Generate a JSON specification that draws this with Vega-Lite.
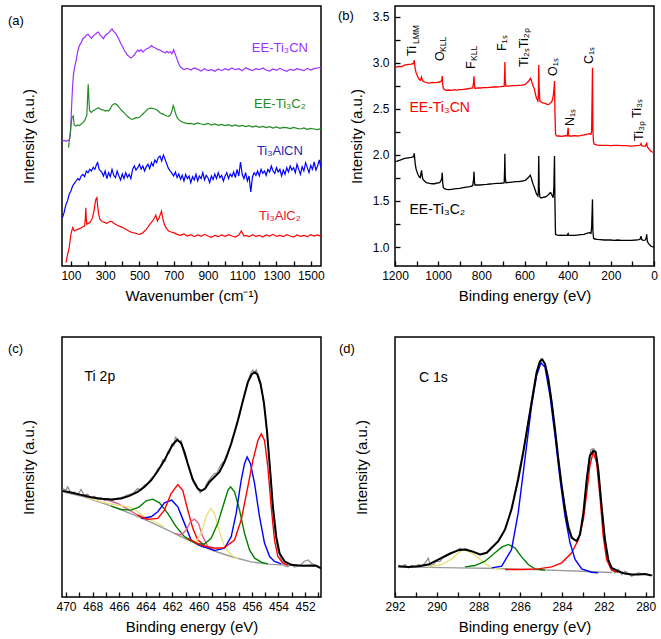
{
"$schema":"https://vega.github.io/schema/vega-lite/v6.json",
"padding":{"left":7,"top":5,"right":8,"bottom":5},
"bounds":"flush",
"columns":2,
"spacing":{"row":71,"column":74},
"resolve":{"scale":{"color":"independent"}},
"config":{
 "font":"Liberation Sans",
 "view":{"stroke":"black","strokeWidth":1.5},
 "axis":{"grid":false,"domain":false,"labelFontSize":12,"labelColor":"black","titleFontSize":15,"titleFontWeight":"normal","titleColor":"black","tickColor":"black","tickSize":-5,"tickWidth":1.3,"labelPadding":11,"titlePadding":4,"labelFlush":false,"labelOverlap":false},
 "title":{"fontSize":13,"fontWeight":"normal","anchor":"start","frame":"group","offset":0,"color":"black"}
},
"datasets":{
"a":[
{"s":"p","w":48,"v":375},{"s":"p","w":60,"v":377},{"s":"p","w":70,"v":374},{"s":"p","w":80,"v":376},{"s":"p","w":90,"v":378},{"s":"p","w":97,"v":392},{"s":"p","w":100,"v":430},{"s":"p","w":105,"v":490},{"s":"p","w":110,"v":540},{"s":"p","w":115,"v":575},{"s":"p","w":120,"v":592},{"s":"p","w":130,"v":615},{"s":"p","w":140,"v":645},{"s":"p","w":150,"v":662},{"s":"p","w":160,"v":670},{"s":"p","w":170,"v":682},{"s":"p","w":180,"v":686},{"s":"p","w":190,"v":692},{"s":"p","w":200,"v":695},{"s":"p","w":210,"v":689},{"s":"p","w":220,"v":683},{"s":"p","w":230,"v":690},{"s":"p","w":240,"v":694},{"s":"p","w":250,"v":699},{"s":"p","w":260,"v":702},{"s":"p","w":270,"v":693},{"s":"p","w":280,"v":688},{"s":"p","w":290,"v":682},{"s":"p","w":300,"v":691},{"s":"p","w":310,"v":696},{"s":"p","w":320,"v":699},{"s":"p","w":330,"v":706},{"s":"p","w":340,"v":711},{"s":"p","w":350,"v":703},{"s":"p","w":360,"v":699},{"s":"p","w":370,"v":690},{"s":"p","w":380,"v":681},{"s":"p","w":390,"v":668},{"s":"p","w":400,"v":660},{"s":"p","w":410,"v":648},{"s":"p","w":420,"v":641},{"s":"p","w":430,"v":633},{"s":"p","w":440,"v":628},{"s":"p","w":450,"v":624},{"s":"p","w":460,"v":628},{"s":"p","w":470,"v":633},{"s":"p","w":480,"v":641},{"s":"p","w":490,"v":648},{"s":"p","w":500,"v":644},{"s":"p","w":510,"v":649},{"s":"p","w":520,"v":642},{"s":"p","w":530,"v":647},{"s":"p","w":540,"v":651},{"s":"p","w":550,"v":653},{"s":"p","w":560,"v":656},{"s":"p","w":570,"v":661},{"s":"p","w":580,"v":657},{"s":"p","w":590,"v":655},{"s":"p","w":600,"v":652},{"s":"p","w":610,"v":649},{"s":"p","w":620,"v":648},{"s":"p","w":630,"v":644},{"s":"p","w":640,"v":642},{"s":"p","w":650,"v":639},{"s":"p","w":660,"v":644},{"s":"p","w":670,"v":640},{"s":"p","w":680,"v":643},{"s":"p","w":690,"v":637},{"s":"p","w":700,"v":649},{"s":"p","w":710,"v":634},{"s":"p","w":720,"v":620},{"s":"p","w":730,"v":606},{"s":"p","w":740,"v":597},{"s":"p","w":750,"v":593},{"s":"p","w":760,"v":589},{"s":"p","w":780,"v":593},{"s":"p","w":800,"v":588},{"s":"p","w":820,"v":594},{"s":"p","w":840,"v":590},{"s":"p","w":860,"v":585},{"s":"p","w":880,"v":592},{"s":"p","w":900,"v":586},{"s":"p","w":920,"v":589},{"s":"p","w":940,"v":584},{"s":"p","w":960,"v":591},{"s":"p","w":980,"v":586},{"s":"p","w":1000,"v":592},{"s":"p","w":1020,"v":588},{"s":"p","w":1040,"v":594},{"s":"p","w":1060,"v":589},{"s":"p","w":1080,"v":592},{"s":"p","w":1100,"v":586},{"s":"p","w":1120,"v":595},{"s":"p","w":1140,"v":590},{"s":"p","w":1160,"v":586},{"s":"p","w":1180,"v":592},{"s":"p","w":1200,"v":589},{"s":"p","w":1220,"v":594},{"s":"p","w":1240,"v":588},{"s":"p","w":1260,"v":585},{"s":"p","w":1280,"v":591},{"s":"p","w":1300,"v":587},{"s":"p","w":1320,"v":593},{"s":"p","w":1340,"v":588},{"s":"p","w":1360,"v":584},{"s":"p","w":1380,"v":590},{"s":"p","w":1400,"v":587},{"s":"p","w":1420,"v":592},{"s":"p","w":1440,"v":589},{"s":"p","w":1460,"v":586},{"s":"p","w":1480,"v":593},{"s":"p","w":1500,"v":588},{"s":"p","w":1520,"v":592},{"s":"p","w":1540,"v":594},{"s":"p","w":1560,"v":596},
{"s":"g","w":86,"v":355},{"s":"g","w":95,"v":395},{"s":"g","w":100,"v":420},{"s":"g","w":106,"v":445},{"s":"g","w":114,"v":450},{"s":"g","w":119,"v":423},{"s":"g","w":129,"v":420},{"s":"g","w":140,"v":423},{"s":"g","w":150,"v":421},{"s":"g","w":160,"v":426},{"s":"g","w":170,"v":430},{"s":"g","w":180,"v":436},{"s":"g","w":187,"v":445},{"s":"g","w":193,"v":452},{"s":"g","w":197,"v":500},{"s":"g","w":201,"v":545},{"s":"g","w":205,"v":500},{"s":"g","w":209,"v":466},{"s":"g","w":220,"v":461},{"s":"g","w":230,"v":466},{"s":"g","w":240,"v":469},{"s":"g","w":250,"v":472},{"s":"g","w":260,"v":475},{"s":"g","w":270,"v":471},{"s":"g","w":280,"v":469},{"s":"g","w":290,"v":468},{"s":"g","w":300,"v":465},{"s":"g","w":310,"v":467},{"s":"g","w":320,"v":465},{"s":"g","w":330,"v":472},{"s":"g","w":340,"v":482},{"s":"g","w":350,"v":486},{"s":"g","w":360,"v":487},{"s":"g","w":370,"v":483},{"s":"g","w":380,"v":477},{"s":"g","w":390,"v":470},{"s":"g","w":400,"v":465},{"s":"g","w":410,"v":460},{"s":"g","w":420,"v":455},{"s":"g","w":430,"v":449},{"s":"g","w":440,"v":445},{"s":"g","w":450,"v":441},{"s":"g","w":460,"v":440},{"s":"g","w":470,"v":443},{"s":"g","w":480,"v":445},{"s":"g","w":490,"v":444},{"s":"g","w":500,"v":446},{"s":"g","w":510,"v":451},{"s":"g","w":520,"v":456},{"s":"g","w":530,"v":461},{"s":"g","w":540,"v":466},{"s":"g","w":550,"v":471},{"s":"g","w":560,"v":473},{"s":"g","w":570,"v":474},{"s":"g","w":580,"v":472},{"s":"g","w":590,"v":471},{"s":"g","w":600,"v":469},{"s":"g","w":610,"v":465},{"s":"g","w":620,"v":460},{"s":"g","w":630,"v":457},{"s":"g","w":640,"v":455},{"s":"g","w":650,"v":452},{"s":"g","w":660,"v":450},{"s":"g","w":670,"v":449},{"s":"g","w":680,"v":452},{"s":"g","w":690,"v":465},{"s":"g","w":697,"v":482},{"s":"g","w":702,"v":475},{"s":"g","w":707,"v":465},{"s":"g","w":715,"v":452},{"s":"g","w":720,"v":445},{"s":"g","w":730,"v":439},{"s":"g","w":740,"v":435},{"s":"g","w":750,"v":432},{"s":"g","w":760,"v":430},{"s":"g","w":780,"v":427},{"s":"g","w":800,"v":428},{"s":"g","w":820,"v":425},{"s":"g","w":840,"v":429},{"s":"g","w":860,"v":426},{"s":"g","w":880,"v":424},{"s":"g","w":900,"v":428},{"s":"g","w":920,"v":423},{"s":"g","w":940,"v":426},{"s":"g","w":960,"v":422},{"s":"g","w":980,"v":425},{"s":"g","w":1000,"v":421},{"s":"g","w":1020,"v":424},{"s":"g","w":1040,"v":420},{"s":"g","w":1060,"v":423},{"s":"g","w":1080,"v":419},{"s":"g","w":1100,"v":422},{"s":"g","w":1120,"v":418},{"s":"g","w":1140,"v":421},{"s":"g","w":1160,"v":417},{"s":"g","w":1180,"v":420},{"s":"g","w":1200,"v":416},{"s":"g","w":1220,"v":419},{"s":"g","w":1240,"v":415},{"s":"g","w":1260,"v":418},{"s":"g","w":1280,"v":414},{"s":"g","w":1300,"v":417},{"s":"g","w":1320,"v":413},{"s":"g","w":1340,"v":416},{"s":"g","w":1360,"v":415},{"s":"g","w":1380,"v":412},{"s":"g","w":1400,"v":416},{"s":"g","w":1420,"v":413},{"s":"g","w":1440,"v":411},{"s":"g","w":1460,"v":414},{"s":"g","w":1480,"v":410},{"s":"g","w":1500,"v":413},{"s":"g","w":1520,"v":411},{"s":"g","w":1540,"v":409},{"s":"g","w":1560,"v":412},
{"s":"b","w":51,"v":145},{"s":"b","w":60,"v":160},{"s":"b","w":71,"v":185},{"s":"b","w":80,"v":195},{"s":"b","w":90,"v":215},{"s":"b","w":100,"v":225},{"s":"b","w":110,"v":240},{"s":"b","w":120,"v":248},{"s":"b","w":130,"v":255},{"s":"b","w":140,"v":262},{"s":"b","w":150,"v":258},{"s":"b","w":160,"v":270},{"s":"b","w":170,"v":275},{"s":"b","w":180,"v":268},{"s":"b","w":190,"v":285},{"s":"b","w":200,"v":280},{"s":"b","w":210,"v":290},{"s":"b","w":220,"v":285},{"s":"b","w":230,"v":296},{"s":"b","w":240,"v":290},{"s":"b","w":250,"v":305},{"s":"b","w":256,"v":310},{"s":"b","w":265,"v":290},{"s":"b","w":280,"v":282},{"s":"b","w":290,"v":270},{"s":"b","w":300,"v":285},{"s":"b","w":310,"v":262},{"s":"b","w":320,"v":280},{"s":"b","w":330,"v":268},{"s":"b","w":340,"v":290},{"s":"b","w":350,"v":272},{"s":"b","w":360,"v":265},{"s":"b","w":370,"v":285},{"s":"b","w":380,"v":270},{"s":"b","w":390,"v":258},{"s":"b","w":400,"v":276},{"s":"b","w":410,"v":262},{"s":"b","w":420,"v":280},{"s":"b","w":430,"v":266},{"s":"b","w":440,"v":275},{"s":"b","w":450,"v":262},{"s":"b","w":460,"v":290},{"s":"b","w":470,"v":300},{"s":"b","w":480,"v":288},{"s":"b","w":490,"v":295},{"s":"b","w":500,"v":305},{"s":"b","w":510,"v":290},{"s":"b","w":520,"v":300},{"s":"b","w":530,"v":285},{"s":"b","w":540,"v":298},{"s":"b","w":550,"v":305},{"s":"b","w":560,"v":292},{"s":"b","w":570,"v":310},{"s":"b","w":580,"v":300},{"s":"b","w":590,"v":318},{"s":"b","w":600,"v":310},{"s":"b","w":610,"v":325},{"s":"b","w":620,"v":330},{"s":"b","w":630,"v":315},{"s":"b","w":640,"v":333},{"s":"b","w":650,"v":320},{"s":"b","w":660,"v":305},{"s":"b","w":670,"v":292},{"s":"b","w":680,"v":285},{"s":"b","w":690,"v":278},{"s":"b","w":700,"v":270},{"s":"b","w":710,"v":282},{"s":"b","w":720,"v":265},{"s":"b","w":730,"v":276},{"s":"b","w":740,"v":260},{"s":"b","w":750,"v":272},{"s":"b","w":760,"v":255},{"s":"b","w":770,"v":275},{"s":"b","w":780,"v":262},{"s":"b","w":790,"v":270},{"s":"b","w":800,"v":250},{"s":"b","w":810,"v":268},{"s":"b","w":820,"v":258},{"s":"b","w":830,"v":275},{"s":"b","w":840,"v":255},{"s":"b","w":850,"v":270},{"s":"b","w":860,"v":262},{"s":"b","w":870,"v":280},{"s":"b","w":880,"v":258},{"s":"b","w":890,"v":272},{"s":"b","w":900,"v":265},{"s":"b","w":910,"v":250},{"s":"b","w":920,"v":270},{"s":"b","w":930,"v":260},{"s":"b","w":940,"v":276},{"s":"b","w":950,"v":262},{"s":"b","w":960,"v":280},{"s":"b","w":970,"v":265},{"s":"b","w":980,"v":272},{"s":"b","w":990,"v":255},{"s":"b","w":1000,"v":270},{"s":"b","w":1010,"v":280},{"s":"b","w":1020,"v":262},{"s":"b","w":1030,"v":276},{"s":"b","w":1040,"v":268},{"s":"b","w":1050,"v":282},{"s":"b","w":1060,"v":265},{"s":"b","w":1070,"v":290},{"s":"b","w":1080,"v":270},{"s":"b","w":1090,"v":312},{"s":"b","w":1100,"v":275},{"s":"b","w":1110,"v":262},{"s":"b","w":1120,"v":280},{"s":"b","w":1130,"v":255},{"s":"b","w":1140,"v":270},{"s":"b","w":1150,"v":222},{"s":"b","w":1160,"v":268},{"s":"b","w":1170,"v":280},{"s":"b","w":1180,"v":272},{"s":"b","w":1190,"v":285},{"s":"b","w":1200,"v":270},{"s":"b","w":1210,"v":290},{"s":"b","w":1220,"v":278},{"s":"b","w":1230,"v":285},{"s":"b","w":1240,"v":272},{"s":"b","w":1250,"v":290},{"s":"b","w":1260,"v":282},{"s":"b","w":1270,"v":300},{"s":"b","w":1280,"v":285},{"s":"b","w":1290,"v":278},{"s":"b","w":1300,"v":295},{"s":"b","w":1310,"v":282},{"s":"b","w":1320,"v":290},{"s":"b","w":1330,"v":270},{"s":"b","w":1340,"v":288},{"s":"b","w":1350,"v":275},{"s":"b","w":1360,"v":295},{"s":"b","w":1370,"v":282},{"s":"b","w":1380,"v":300},{"s":"b","w":1390,"v":288},{"s":"b","w":1400,"v":295},{"s":"b","w":1410,"v":280},{"s":"b","w":1420,"v":305},{"s":"b","w":1430,"v":290},{"s":"b","w":1440,"v":275},{"s":"b","w":1450,"v":298},{"s":"b","w":1460,"v":285},{"s":"b","w":1470,"v":310},{"s":"b","w":1480,"v":295},{"s":"b","w":1490,"v":280},{"s":"b","w":1500,"v":302},{"s":"b","w":1510,"v":290},{"s":"b","w":1520,"v":312},{"s":"b","w":1530,"v":288},{"s":"b","w":1540,"v":300},{"s":"b","w":1550,"v":318},{"s":"b","w":1560,"v":295},
{"s":"r","w":71,"v":10},{"s":"r","w":81,"v":35},{"s":"r","w":90,"v":55},{"s":"r","w":100,"v":95},{"s":"r","w":110,"v":115},{"s":"r","w":120,"v":105},{"s":"r","w":130,"v":108},{"s":"r","w":140,"v":110},{"s":"r","w":150,"v":112},{"s":"r","w":160,"v":115},{"s":"r","w":170,"v":118},{"s":"r","w":180,"v":120},{"s":"r","w":184,"v":140},{"s":"r","w":187,"v":175},{"s":"r","w":190,"v":140},{"s":"r","w":193,"v":125},{"s":"r","w":200,"v":128},{"s":"r","w":210,"v":130},{"s":"r","w":220,"v":138},{"s":"r","w":226,"v":145},{"s":"r","w":235,"v":165},{"s":"r","w":240,"v":185},{"s":"r","w":246,"v":200},{"s":"r","w":252,"v":205},{"s":"r","w":256,"v":180},{"s":"r","w":262,"v":155},{"s":"r","w":270,"v":140},{"s":"r","w":280,"v":135},{"s":"r","w":290,"v":132},{"s":"r","w":300,"v":130},{"s":"r","w":310,"v":128},{"s":"r","w":320,"v":131},{"s":"r","w":330,"v":134},{"s":"r","w":340,"v":133},{"s":"r","w":350,"v":128},{"s":"r","w":360,"v":125},{"s":"r","w":370,"v":122},{"s":"r","w":380,"v":120},{"s":"r","w":390,"v":118},{"s":"r","w":400,"v":116},{"s":"r","w":410,"v":113},{"s":"r","w":420,"v":110},{"s":"r","w":430,"v":107},{"s":"r","w":440,"v":104},{"s":"r","w":450,"v":102},{"s":"r","w":460,"v":100},{"s":"r","w":470,"v":99},{"s":"r","w":480,"v":98},{"s":"r","w":490,"v":96},{"s":"r","w":500,"v":95},{"s":"r","w":510,"v":97},{"s":"r","w":520,"v":100},{"s":"r","w":530,"v":105},{"s":"r","w":540,"v":110},{"s":"r","w":550,"v":117},{"s":"r","w":560,"v":125},{"s":"r","w":570,"v":131},{"s":"r","w":580,"v":138},{"s":"r","w":590,"v":146},{"s":"r","w":596,"v":153},{"s":"r","w":600,"v":145},{"s":"r","w":605,"v":135},{"s":"r","w":610,"v":140},{"s":"r","w":615,"v":145},{"s":"r","w":622,"v":155},{"s":"r","w":629,"v":165},{"s":"r","w":634,"v":150},{"s":"r","w":640,"v":135},{"s":"r","w":648,"v":122},{"s":"r","w":655,"v":115},{"s":"r","w":662,"v":110},{"s":"r","w":670,"v":105},{"s":"r","w":685,"v":102},{"s":"r","w":700,"v":100},{"s":"r","w":720,"v":95},{"s":"r","w":740,"v":92},{"s":"r","w":760,"v":96},{"s":"r","w":780,"v":90},{"s":"r","w":800,"v":94},{"s":"r","w":820,"v":88},{"s":"r","w":840,"v":93},{"s":"r","w":860,"v":89},{"s":"r","w":880,"v":95},{"s":"r","w":900,"v":90},{"s":"r","w":920,"v":86},{"s":"r","w":940,"v":92},{"s":"r","w":960,"v":88},{"s":"r","w":980,"v":93},{"s":"r","w":1000,"v":89},{"s":"r","w":1020,"v":94},{"s":"r","w":1040,"v":90},{"s":"r","w":1060,"v":87},{"s":"r","w":1080,"v":93},{"s":"r","w":1095,"v":105},{"s":"r","w":1110,"v":90},{"s":"r","w":1120,"v":92},{"s":"r","w":1140,"v":88},{"s":"r","w":1160,"v":94},{"s":"r","w":1180,"v":89},{"s":"r","w":1200,"v":92},{"s":"r","w":1220,"v":87},{"s":"r","w":1240,"v":93},{"s":"r","w":1260,"v":90},{"s":"r","w":1280,"v":95},{"s":"r","w":1300,"v":89},{"s":"r","w":1320,"v":92},{"s":"r","w":1340,"v":88},{"s":"r","w":1360,"v":94},{"s":"r","w":1380,"v":90},{"s":"r","w":1400,"v":87},{"s":"r","w":1420,"v":93},{"s":"r","w":1440,"v":89},{"s":"r","w":1460,"v":92},{"s":"r","w":1480,"v":88},{"s":"r","w":1500,"v":94},{"s":"r","w":1520,"v":90},{"s":"r","w":1540,"v":93},{"s":"r","w":1560,"v":89}
],
"b":[
{"e":1200,"r":2.946,"k":1.926},{"e":1190,"r":2.954,"k":1.933},{"e":1180,"r":2.961,"k":1.941},{"e":1170,"r":2.957,"k":1.948},{"e":1156,"r":2.975,"k":1.962},{"e":1145,"r":2.979,"k":1.966},{"e":1133,"r":2.983,"k":1.970},{"e":1125,"r":2.986,"k":1.973},{"e":1117,"r":2.990,"k":1.977},{"e":1113,"r":2.997,"k":1.984},{"e":1111,"r":3.030,"k":2.017},{"e":1109,"r":2.983,"k":1.970},{"e":1106,"r":2.928,"k":1.897},{"e":1102,"r":2.892,"k":1.843},{"e":1094,"r":2.845,"k":1.789},{"e":1087,"r":2.816,"k":1.760},{"e":1083,"r":2.809,"k":1.753},{"e":1079,"r":2.831,"k":1.807},{"e":1077,"r":2.845,"k":1.832},{"e":1074,"r":2.816,"k":1.771},{"e":1071,"r":2.802,"k":1.734},{"e":1063,"r":2.791,"k":1.716},{"e":1055,"r":2.784,"k":1.698},{"e":1040,"r":2.780,"k":1.691},{"e":1028,"r":2.787,"k":1.687},{"e":1016,"r":2.784,"k":1.687},{"e":1005,"r":2.787,"k":1.695},{"e":993,"r":2.791,"k":1.698},{"e":986,"r":2.802,"k":1.724},{"e":983,"r":2.816,"k":1.753},{"e":981,"r":2.856,"k":1.807},{"e":979,"r":2.766,"k":1.698},{"e":976,"r":2.722,"k":1.644},{"e":970,"r":2.708,"k":1.633},{"e":962,"r":2.700,"k":1.626},{"e":950,"r":2.704,"k":1.622},{"e":938,"r":2.700,"k":1.626},{"e":925,"r":2.708,"k":1.630},{"e":915,"r":2.704,"k":1.633},{"e":900,"r":2.708,"k":1.637},{"e":884,"r":2.711,"k":1.644},{"e":868,"r":2.715,"k":1.651},{"e":853,"r":2.722,"k":1.655},{"e":840,"r":2.726,"k":1.666},{"e":836,"r":2.784,"k":1.734},{"e":834,"r":2.852,"k":1.818},{"e":832,"r":2.766,"k":1.716},{"e":830,"r":2.722,"k":1.673},{"e":815,"r":2.726,"k":1.673},{"e":806,"r":2.726,"k":1.673},{"e":790,"r":2.729,"k":1.677},{"e":775,"r":2.729,"k":1.680},{"e":760,"r":2.733,"k":1.684},{"e":744,"r":2.737,"k":1.687},{"e":728,"r":2.737,"k":1.691},{"e":713,"r":2.740,"k":1.691},{"e":700,"r":2.744,"k":1.695},{"e":694,"r":2.744,"k":1.698},{"e":692,"r":2.874,"k":1.861},{"e":691,"r":3.008,"k":2.013},{"e":689,"r":2.802,"k":1.753},{"e":686,"r":2.747,"k":1.698},{"e":670,"r":2.747,"k":1.702},{"e":658,"r":2.751,"k":1.705},{"e":642,"r":2.751,"k":1.709},{"e":627,"r":2.755,"k":1.709},{"e":612,"r":2.758,"k":1.716},{"e":596,"r":2.766,"k":1.724},{"e":588,"r":2.784,"k":1.742},{"e":580,"r":2.802,"k":1.760},{"e":573,"r":2.831,"k":1.778},{"e":568,"r":2.809,"k":1.745},{"e":565,"r":2.784,"k":1.716},{"e":560,"r":2.747,"k":1.680},{"e":554,"r":2.711,"k":1.644},{"e":549,"r":2.657,"k":1.608},{"e":545,"r":2.621,"k":1.579},{"e":538,"r":2.585,"k":1.554},{"e":536,"r":2.621,"k":1.590},{"e":534,"r":2.975,"k":1.988},{"e":532,"r":2.729,"k":1.644},{"e":529,"r":2.585,"k":1.543},{"e":524,"r":2.577,"k":1.535},{"e":518,"r":2.567,"k":1.535},{"e":510,"r":2.563,"k":1.543},{"e":503,"r":2.556,"k":1.543},{"e":495,"r":2.548,"k":1.557},{"e":487,"r":2.548,"k":1.572},{"e":483,"r":2.556,"k":1.586},{"e":479,"r":2.567,"k":1.590},{"e":475,"r":2.577,"k":1.572},{"e":472,"r":2.585,"k":1.561},{"e":467,"r":2.639,"k":1.535},{"e":464,"r":2.693,"k":1.644},{"e":461,"r":2.802,"k":1.988},{"e":459,"r":2.476,"k":1.499},{"e":457,"r":2.295,"k":1.210},{"e":456,"r":2.223,"k":1.137},{"e":452,"r":2.208,"k":1.134},{"e":448,"r":2.205,"k":1.130},{"e":440,"r":2.205,"k":1.127},{"e":430,"r":2.201,"k":1.130},{"e":417,"r":2.205,"k":1.127},{"e":408,"r":2.208,"k":1.127},{"e":402,"r":2.205,"k":1.127},{"e":400,"r":2.241,"k":1.137},{"e":398,"r":2.295,"k":1.145},{"e":396,"r":2.223,"k":1.130},{"e":394,"r":2.205,"k":1.127},{"e":380,"r":2.205,"k":1.127},{"e":368,"r":2.208,"k":1.127},{"e":355,"r":2.205,"k":1.130},{"e":340,"r":2.208,"k":1.134},{"e":324,"r":2.216,"k":1.137},{"e":312,"r":2.223,"k":1.148},{"e":300,"r":2.230,"k":1.156},{"e":292,"r":2.223,"k":1.148},{"e":289,"r":2.259,"k":1.210},{"e":287,"r":2.585,"k":1.355},{"e":285,"r":2.946,"k":1.517},{"e":283,"r":2.259,"k":1.174},{"e":280,"r":2.132,"k":1.094},{"e":275,"r":2.114,"k":1.087},{"e":262,"r":2.107,"k":1.083},{"e":250,"r":2.104,"k":1.080},{"e":230,"r":2.104,"k":1.076},{"e":215,"r":2.104,"k":1.076},{"e":200,"r":2.100,"k":1.076},{"e":185,"r":2.104,"k":1.072},{"e":168,"r":2.104,"k":1.076},{"e":150,"r":2.100,"k":1.072},{"e":130,"r":2.100,"k":1.072},{"e":106,"r":2.096,"k":1.072},{"e":85,"r":2.100,"k":1.076},{"e":70,"r":2.104,"k":1.080},{"e":63,"r":2.107,"k":1.090},{"e":60,"r":2.122,"k":1.119},{"e":57,"r":2.100,"k":1.080},{"e":50,"r":2.096,"k":1.072},{"e":40,"r":2.096,"k":1.076},{"e":36,"r":2.114,"k":1.101},{"e":34,"r":2.132,"k":1.137},{"e":31,"r":2.089,"k":1.065},{"e":28,"r":2.078,"k":1.047},{"e":22,"r":2.060,"k":1.029},{"e":15,"r":2.042,"k":1.011},{"e":8,"r":2.031,"k":1.004},{"e":0,"r":2.024,"k":1.000}
],
"cr":[
{"x":470.25,"y":327},{"x":470.0,"y":322},{"x":469.87,"y":332},{"x":469.62,"y":312},{"x":469.37,"y":317},{"x":469.12,"y":307},{"x":468.87,"y":324},{"x":468.62,"y":307},{"x":468.37,"y":310},{"x":468.12,"y":297},{"x":467.86,"y":304},{"x":467.61,"y":294},{"x":467.36,"y":300},{"x":467.11,"y":291},{"x":466.86,"y":297},{"x":466.48,"y":291},{"x":466.11,"y":298},{"x":465.73,"y":301},{"x":465.35,"y":308},{"x":464.97,"y":312},{"x":464.6,"y":327},{"x":464.35,"y":322},{"x":464.1,"y":337},{"x":463.84,"y":342},{"x":463.59,"y":357},{"x":463.34,"y":366},{"x":463.09,"y":386},{"x":462.89,"y":392},{"x":462.71,"y":414},{"x":462.54,"y":410},{"x":462.34,"y":437},{"x":462.21,"y":434},{"x":462.04,"y":460},{"x":461.88,"y":456},{"x":461.76,"y":482},{"x":461.58,"y":476},{"x":461.46,"y":467},{"x":461.33,"y":472},{"x":461.13,"y":434},{"x":460.95,"y":414},{"x":460.83,"y":400},{"x":460.63,"y":372},{"x":460.45,"y":350},{"x":460.28,"y":337},{"x":460.08,"y":327},{"x":459.9,"y":314},{"x":459.75,"y":322},{"x":459.57,"y":324},{"x":459.4,"y":342},{"x":459.2,"y":354},{"x":459.02,"y":364},{"x":458.82,"y":372},{"x":458.62,"y":374},{"x":458.44,"y":392},{"x":458.27,"y":402},{"x":458.07,"y":410},{"x":457.89,"y":420},{"x":457.69,"y":447},{"x":457.49,"y":477},{"x":457.31,"y":494},{"x":457.11,"y":522},{"x":456.93,"y":548},{"x":456.73,"y":582},{"x":456.56,"y":612},{"x":456.36,"y":642},{"x":456.18,"y":666},{"x":456.06,"y":677},{"x":455.93,"y":684},{"x":455.8,"y":676},{"x":455.68,"y":685},{"x":455.5,"y":667},{"x":455.35,"y":647},{"x":455.18,"y":604},{"x":455.0,"y":552},{"x":454.8,"y":462},{"x":454.6,"y":372},{"x":454.42,"y":272},{"x":454.25,"y":192},{"x":454.05,"y":142},{"x":453.79,"y":112},{"x":453.54,"y":94},{"x":453.29,"y":92},{"x":453.04,"y":99},{"x":452.79,"y":90},{"x":452.54,"y":94},{"x":452.29,"y":98},{"x":452.04,"y":108},{"x":451.78,"y":112},{"x":451.53,"y":102},{"x":451.28,"y":97},{"x":451.03,"y":92},{"x":450.78,"y":86}
],
"cf":[
{"x":470.25,"y":320},{"x":469.62,"y":315},{"x":468.87,"y":308},{"x":468.12,"y":301},{"x":467.36,"y":296},{"x":466.61,"y":294},{"x":465.85,"y":297},{"x":465.23,"y":305},{"x":464.6,"y":317},{"x":464.1,"y":332},{"x":463.59,"y":352},{"x":463.09,"y":380},{"x":462.59,"y":412},{"x":462.21,"y":442},{"x":461.96,"y":460},{"x":461.63,"y":474},{"x":461.33,"y":464},{"x":461.08,"y":437},{"x":460.83,"y":402},{"x":460.45,"y":354},{"x":460.08,"y":327},{"x":459.82,"y":320},{"x":459.52,"y":327},{"x":459.2,"y":347},{"x":458.82,"y":362},{"x":458.44,"y":377},{"x":458.07,"y":407},{"x":457.56,"y":462},{"x":457.06,"y":532},{"x":456.68,"y":592},{"x":456.31,"y":647},{"x":456.01,"y":672},{"x":455.8,"y":677},{"x":455.6,"y":672},{"x":455.35,"y":642},{"x":455.1,"y":587},{"x":454.87,"y":502},{"x":454.65,"y":392},{"x":454.42,"y":272},{"x":454.17,"y":182},{"x":453.92,"y":132},{"x":453.54,"y":107},{"x":453.04,"y":97},{"x":452.29,"y":94},{"x":451.53,"y":95},{"x":451.16,"y":94},{"x":450.78,"y":86}
],
"cc":[
{"s":"bg","x":470.25,"y":317},{"s":"bg","x":468.62,"y":302},{"s":"bg","x":467.36,"y":285},{"s":"bg","x":466.11,"y":267},{"s":"bg","x":464.85,"y":247},{"s":"bg","x":463.59,"y":225},{"s":"bg","x":462.34,"y":202},{"s":"bg","x":461.08,"y":177},{"s":"bg","x":459.82,"y":154},{"s":"bg","x":458.57,"y":135},{"s":"bg","x":457.31,"y":119},{"s":"bg","x":456.06,"y":106},{"s":"bg","x":454.8,"y":99},{"s":"bg","x":453.54,"y":96},{"s":"bg","x":452.79,"y":95},
{"s":"p2","x":469.12,"y":310},{"s":"p2","x":468.37,"y":304},{"s":"p2","x":467.61,"y":297},{"s":"p2","x":466.86,"y":292},{"s":"p2","x":466.11,"y":282},{"s":"p2","x":465.35,"y":265},{"s":"p2","x":464.6,"y":247},{"s":"p2","x":463.84,"y":232},
{"s":"y2","x":468.37,"y":300},{"s":"y2","x":467.36,"y":287},{"s":"y2","x":466.36,"y":278},{"s":"y2","x":465.6,"y":274},{"s":"y2","x":465.1,"y":270},{"s":"y2","x":464.6,"y":257},{"s":"y2","x":464.1,"y":242},{"s":"y2","x":463.34,"y":227},{"s":"y2","x":462.59,"y":212},
{"s":"g2","x":466.61,"y":274},{"s":"g2","x":465.85,"y":264},{"s":"g2","x":465.1,"y":262},{"s":"g2","x":464.47,"y":272},{"s":"g2","x":463.97,"y":290},{"s":"g2","x":463.47,"y":295},{"s":"g2","x":462.96,"y":284},{"s":"g2","x":462.34,"y":252},{"s":"g2","x":461.71,"y":212},{"s":"g2","x":461.08,"y":182},{"s":"g2","x":460.45,"y":167},
{"s":"b2","x":464.35,"y":237},{"s":"b2","x":463.59,"y":242},{"s":"b2","x":463.09,"y":257},{"s":"b2","x":462.59,"y":284},{"s":"b2","x":462.04,"y":292},{"s":"b2","x":461.58,"y":272},{"s":"b2","x":461.08,"y":222},{"s":"b2","x":460.58,"y":172},{"s":"b2","x":460.08,"y":158},{"s":"b2","x":459.57,"y":150},
{"s":"r2","x":464.6,"y":247},{"s":"r2","x":463.84,"y":234},{"s":"r2","x":463.09,"y":237},{"s":"r2","x":462.59,"y":262},{"s":"r2","x":462.09,"y":312},{"s":"r2","x":461.58,"y":339},{"s":"r2","x":461.21,"y":322},{"s":"r2","x":460.83,"y":262},{"s":"r2","x":460.45,"y":207},{"s":"r2","x":460.08,"y":172},{"s":"r2","x":459.57,"y":156},
{"s":"p1","x":461.83,"y":192},{"s":"p1","x":461.33,"y":187},{"s":"p1","x":460.95,"y":202},{"s":"p1","x":460.63,"y":227},{"s":"p1","x":460.33,"y":235},{"s":"p1","x":460.03,"y":222},{"s":"p1","x":459.7,"y":182},{"s":"p1","x":459.32,"y":152},{"s":"p1","x":458.82,"y":140},
{"s":"y1","x":460.83,"y":172},{"s":"y1","x":460.2,"y":167},{"s":"y1","x":459.82,"y":192},{"s":"y1","x":459.45,"y":242},{"s":"y1","x":459.12,"y":267},{"s":"y1","x":458.82,"y":252},{"s":"y1","x":458.44,"y":197},{"s":"y1","x":458.07,"y":152},{"s":"y1","x":457.56,"y":127},{"s":"y1","x":457.06,"y":116},
{"s":"g1","x":460.83,"y":174},{"s":"g1","x":460.08,"y":160},{"s":"g1","x":459.57,"y":160},{"s":"g1","x":459.07,"y":177},{"s":"g1","x":458.57,"y":222},{"s":"g1","x":458.19,"y":272},{"s":"g1","x":457.81,"y":322},{"s":"g1","x":457.61,"y":332},{"s":"g1","x":457.31,"y":317},{"s":"g1","x":456.93,"y":262},{"s":"g1","x":456.56,"y":192},{"s":"g1","x":456.18,"y":142},{"s":"g1","x":455.8,"y":117},{"s":"g1","x":455.3,"y":105},{"s":"g1","x":454.8,"y":100},
{"s":"b1","x":459.82,"y":155},{"s":"b1","x":458.82,"y":140},{"s":"b1","x":458.07,"y":147},{"s":"b1","x":457.56,"y":182},{"s":"b1","x":457.19,"y":252},{"s":"b1","x":456.81,"y":352},{"s":"b1","x":456.56,"y":402},{"s":"b1","x":456.36,"y":422},{"s":"b1","x":456.11,"y":402},{"s":"b1","x":455.8,"y":342},{"s":"b1","x":455.43,"y":242},{"s":"b1","x":455.05,"y":162},{"s":"b1","x":454.67,"y":122},{"s":"b1","x":454.3,"y":107},{"s":"b1","x":453.79,"y":100},
{"s":"r1","x":460.83,"y":177},{"s":"r1","x":459.82,"y":156},{"s":"r1","x":458.82,"y":147},{"s":"r1","x":458.07,"y":149},{"s":"r1","x":457.31,"y":172},{"s":"r1","x":456.81,"y":232},{"s":"r1","x":456.31,"y":332},{"s":"r1","x":455.93,"y":412},{"s":"r1","x":455.55,"y":472},{"s":"r1","x":455.3,"y":492},{"s":"r1","x":455.05,"y":472},{"s":"r1","x":454.8,"y":392},{"s":"r1","x":454.55,"y":272},{"s":"r1","x":454.3,"y":172},{"s":"r1","x":454.05,"y":122},{"s":"r1","x":453.67,"y":102},{"s":"r1","x":453.29,"y":97}
],
"dr":[
{"x":291.84,"y":94},{"x":291.68,"y":90},{"x":291.52,"y":97},{"x":291.36,"y":87},{"x":291.2,"y":94},{"x":291.04,"y":90},{"x":290.88,"y":97},{"x":290.72,"y":92},{"x":290.56,"y":102},{"x":290.4,"y":116},{"x":290.32,"y":94},{"x":290.16,"y":97},{"x":290.01,"y":107},{"x":289.85,"y":106},{"x":289.69,"y":120},{"x":289.53,"y":122},{"x":289.37,"y":132},{"x":289.21,"y":134},{"x":289.05,"y":137},{"x":288.89,"y":146},{"x":288.73,"y":142},{"x":288.57,"y":144},{"x":288.41,"y":137},{"x":288.25,"y":134},{"x":288.09,"y":130},{"x":287.93,"y":126},{"x":287.77,"y":129},{"x":287.61,"y":132},{"x":287.45,"y":142},{"x":287.29,"y":152},{"x":287.13,"y":164},{"x":286.97,"y":177},{"x":286.81,"y":192},{"x":286.65,"y":217},{"x":286.5,"y":247},{"x":286.34,"y":287},{"x":286.18,"y":337},{"x":286.02,"y":392},{"x":285.86,"y":437},{"x":285.7,"y":497},{"x":285.54,"y":557},{"x":285.38,"y":617},{"x":285.22,"y":667},{"x":285.11,"y":697},{"x":285.01,"y":712},{"x":284.9,"y":708},{"x":284.79,"y":692},{"x":284.66,"y":657},{"x":284.5,"y":587},{"x":284.34,"y":502},{"x":284.18,"y":417},{"x":284.02,"y":337},{"x":283.86,"y":272},{"x":283.7,"y":217},{"x":283.54,"y":182},{"x":283.42,"y":170},{"x":283.3,"y":166},{"x":283.19,"y":177},{"x":283.06,"y":212},{"x":282.94,"y":272},{"x":282.82,"y":352},{"x":282.71,"y":412},{"x":282.62,"y":440},{"x":282.51,"y":444},{"x":282.39,"y":437},{"x":282.27,"y":382},{"x":282.11,"y":277},{"x":281.98,"y":192},{"x":281.87,"y":132},{"x":281.76,"y":102},{"x":281.63,"y":87},{"x":281.47,"y":72},{"x":281.31,"y":82},{"x":281.15,"y":67},{"x":280.99,"y":77},{"x":280.83,"y":70},{"x":280.67,"y":62},{"x":280.51,"y":67},{"x":280.35,"y":72},{"x":280.19,"y":70},{"x":280.03,"y":68},{"x":279.79,"y":66},{"x":279.59,"y":64}
],
"df":[
{"x":291.84,"y":92},{"x":291.36,"y":90},{"x":290.88,"y":92},{"x":290.4,"y":97},{"x":289.93,"y":112},{"x":289.45,"y":127},{"x":288.97,"y":140},{"x":288.65,"y":142},{"x":288.33,"y":137},{"x":287.93,"y":127},{"x":287.61,"y":132},{"x":287.37,"y":147},{"x":287.05,"y":167},{"x":286.73,"y":202},{"x":286.42,"y":262},{"x":286.1,"y":352},{"x":285.86,"y":432},{"x":285.62,"y":522},{"x":285.38,"y":612},{"x":285.22,"y":672},{"x":285.06,"y":704},{"x":284.95,"y":710},{"x":284.82,"y":697},{"x":284.66,"y":652},{"x":284.5,"y":582},{"x":284.34,"y":502},{"x":284.18,"y":412},{"x":284.02,"y":332},{"x":283.86,"y":262},{"x":283.7,"y":207},{"x":283.54,"y":177},{"x":283.3,"y":167},{"x":283.14,"y":187},{"x":282.98,"y":252},{"x":282.82,"y":352},{"x":282.67,"y":422},{"x":282.51,"y":437},{"x":282.39,"y":432},{"x":282.27,"y":382},{"x":282.11,"y":272},{"x":281.95,"y":172},{"x":281.79,"y":112},{"x":281.63,"y":87},{"x":281.31,"y":77},{"x":280.99,"y":70},{"x":280.67,"y":67},{"x":280.35,"y":67},{"x":280.03,"y":69},{"x":279.71,"y":64}
],
"dc":[
{"s":"bg","x":291.84,"y":90},{"s":"bg","x":289.0,"y":87},{"s":"bg","x":287.0,"y":85},{"s":"bg","x":285.0,"y":81},{"s":"bg","x":283.0,"y":77},{"s":"bg","x":282.0,"y":74},{"s":"bg","x":281.6,"y":73},
{"s":"yl","x":290.4,"y":90},{"s":"yl","x":289.77,"y":97},{"s":"yl","x":289.29,"y":114},{"s":"yl","x":288.97,"y":132},{"s":"yl","x":288.73,"y":142},{"s":"yl","x":288.33,"y":132},{"s":"yl","x":288.01,"y":117},{"s":"yl","x":287.69,"y":100},{"s":"yl","x":287.37,"y":87},{"s":"yl","x":286.89,"y":82},
{"s":"gr","x":288.65,"y":90},{"s":"gr","x":288.17,"y":94},{"s":"gr","x":287.69,"y":107},{"s":"gr","x":287.21,"y":132},{"s":"gr","x":286.89,"y":149},{"s":"gr","x":286.57,"y":157},{"s":"gr","x":286.26,"y":147},{"s":"gr","x":285.94,"y":120},{"s":"gr","x":285.62,"y":97},{"s":"gr","x":285.3,"y":84},{"s":"gr","x":284.82,"y":80},
{"s":"rd","x":286.73,"y":82},{"s":"rd","x":285.94,"y":82},{"s":"rd","x":285.14,"y":84},{"s":"rd","x":284.5,"y":90},{"s":"rd","x":284.02,"y":102},{"s":"rd","x":283.54,"y":132},{"s":"rd","x":283.22,"y":172},{"s":"rd","x":282.98,"y":232},{"s":"rd","x":282.82,"y":312},{"s":"rd","x":282.67,"y":392},{"s":"rd","x":282.51,"y":434},{"s":"rd","x":282.35,"y":402},{"s":"rd","x":282.19,"y":302},{"s":"rd","x":282.03,"y":182},{"s":"rd","x":281.87,"y":112},{"s":"rd","x":281.63,"y":80},{"s":"rd","x":281.31,"y":74},
{"s":"bl","x":287.37,"y":87},{"s":"bl","x":286.89,"y":92},{"s":"bl","x":286.42,"y":142},{"s":"bl","x":286.1,"y":252},{"s":"bl","x":285.78,"y":412},{"s":"bl","x":285.46,"y":572},{"s":"bl","x":285.22,"y":662},{"s":"bl","x":285.01,"y":700},{"s":"bl","x":284.82,"y":687},{"s":"bl","x":284.58,"y":602},{"s":"bl","x":284.34,"y":482},{"s":"bl","x":284.1,"y":352},{"s":"bl","x":283.86,"y":242},{"s":"bl","x":283.62,"y":162},{"s":"bl","x":283.38,"y":112},{"s":"bl","x":283.06,"y":84},{"s":"bl","x":282.59,"y":74},{"s":"bl","x":282.27,"y":72}
]
},
"concat":[
{
 "width":259,"height":260,
 "title":{"text":"(a)","dx":-54,"dy":26},
 "resolve":{"scale":{"color":"independent"}},
 "encoding":{
  "x":{"field":"w","type":"quantitative","scale":{"domain":[48,1560],"nice":false,"zero":false},
   "axis":{"title":"Wavenumber (cm⁻¹)","format":"d","labelOverlap":false,"labelFlush":false,"ticks":true,"labelPadding":9,"titlePadding":7,"values":[100,200,300,400,500,600,700,800,900,1000,1100,1200,1300,1400,1500],"labelExpr":"(datum.value-100)%200==0?datum.label:''"}},
  "y":{"field":"v","type":"quantitative","scale":{"domain":[0,780],"nice":false,"zero":false},"axis":{"title":"Intensity (a.u.)","labels":false,"ticks":false,"titlePadding":26}}
 },
 "layer":[
  {"data":{"name":"a"},"mark":{"type":"line","strokeWidth":1.2,"clip":true},
   "encoding":{"color":{"field":"s","type":"nominal","scale":{"domain":["p","g","b","r"],"range":["#9b30ff","#228b22","#0000ff","#ff0000"]},"legend":null}}},
  {"data":{"values":[{"s":"p","w":1320,"v":655,"t":"EE-Ti₃CN"},{"s":"g","w":1320,"v":486,"t":"EE-Ti₃C₂"},{"s":"b","w":1320,"v":345,"t":"Ti₃AlCN"},{"s":"r","w":1320,"v":150,"t":"Ti₃AlC₂"}]},
   "mark":{"type":"text","fontSize":13,"align":"center","baseline":"middle"},
   "encoding":{"text":{"field":"t"},
    "color":{"field":"s","type":"nominal","scale":{"domain":["p","g","b","r"],"range":["#9b30ff","#228b22","#1f1fb4","#e8202a"]},"legend":null}}}
 ]
},
{
 "width":259,"height":260,
 "title":{"text":"(b)","dx":-57,"dy":21},
 "encoding":{
  "x":{"field":"e","type":"quantitative","scale":{"domain":[0,1200],"reverse":true,"nice":false,"zero":false},
   "axis":{"title":"Binding energy (eV)","format":"d","labelOverlap":false,"labelFlush":false,"ticks":true,"labelPadding":9,"titlePadding":7,"values":[0,100,200,300,400,500,600,700,800,900,1000,1100,1200],"labelExpr":"datum.value%200==0?datum.label:''"}},
  "y":{"field":"v","type":"quantitative","scale":{"domain":[0.794,3.616],"nice":false,"zero":false},
   "axis":{"title":"Intensity (a.u.)","labelOverlap":false,"labelFlush":false,"ticks":true,"values":[1,1.25,1.5,1.75,2,2.25,2.5,2.75,3,3.25,3.5],"labelExpr":"(datum.value*2)%1==0?format(datum.value,'.1f'):''","titlePadding":8}}
 },
 "layer":[
  {"data":{"name":"b"},"transform":[{"fold":["r","k"],"as":["s","v"]}],"mark":{"type":"line","strokeWidth":1.3,"clip":true},
   "encoding":{"color":{"field":"s","type":"nominal","scale":{"domain":["r","k"],"range":["#ff0000","#000000"]},"legend":null}}},
  {"data":{"values":[{"t":"Ti","e":1119,"v":3.073},{"t":"O","e":993,"v":3.019},{"t":"F","e":848,"v":2.932},{"t":"F₁ₛ","e":704,"v":3.127},{"t":"Ti₂ₛTi₂ₚ","e":601,"v":2.954},{"t":"O₁ₛ","e":470,"v":2.856},{"t":"C₁ₛ","e":302,"v":2.986},{"t":"N₁ₛ","e":391,"v":2.313},{"t":"Ti₃ₛ","e":78,"v":2.40},{"t":"Ti₃ₚ","e":69,"v":2.151}]},
   "mark":{"type":"text","fontSize":12.5,"angle":270,"align":"left","baseline":"middle","color":"black"},
   "encoding":{"text":{"field":"t"}}},
  {"data":{"values":[{"t":"LMM","e":1105,"v":3.203},{"t":"KLL","e":977,"v":3.117},{"t":"KLL","e":832,"v":3.019}]},
   "mark":{"type":"text","fontSize":8.5,"angle":270,"align":"left","baseline":"middle","color":"black"},
   "encoding":{"text":{"field":"t"}}},
  {"data":{"values":[{"t":"EE-Ti₃CN","e":1133,"v":2.514,"s":"r"},{"t":"EE-Ti₃C₂","e":1133,"v":1.402,"s":"k"}]},
   "mark":{"type":"text","fontSize":14,"align":"left","baseline":"middle"},
   "encoding":{"text":{"field":"t"},"color":{"field":"s","type":"nominal","legend":null}}}
 ]
},
{
 "width":259,"height":260,
 "title":{"text":"(c)","dx":-54,"dy":23},
 "resolve":{"scale":{"color":"independent"}},
 "encoding":{
  "x":{"field":"x","type":"quantitative","scale":{"domain":[450.8,470.3],"reverse":true,"nice":false,"zero":false},
   "axis":{"title":"Binding energy (eV)","format":"d","labelOverlap":false,"labelFlush":false,"ticks":true,"labelPadding":9,"titlePadding":7,"values":[451,452,453,454,455,456,457,458,459,460,461,462,463,464,465,466,467,468,469,470],"labelExpr":"datum.value%2==0?datum.label:''"}},
  "y":{"field":"y","type":"quantitative","scale":{"domain":[0,784],"nice":false,"zero":false},"axis":{"title":"Intensity (a.u.)","labels":false,"ticks":false,"titlePadding":26}}
 },
 "layer":[
  {"data":{"name":"cr"},"mark":{"type":"line","color":"#8a8a8a","strokeWidth":1.2,"clip":true}},
  {"data":{"name":"cc"},"mark":{"type":"line","strokeWidth":1.4,"clip":true},
   "encoding":{"color":{"field":"s","type":"nominal","scale":{"domain":["bg","p2","y2","g2","b2","r2","p1","y1","g1","b1","r1"],"range":["#9a9a9a","#e8608a","#e8e37a","#008000","#0000ff","#ff0000","#e8608a","#e8e37a","#008000","#0000ff","#ff0000"]},"legend":null}}},
  {"data":{"name":"cf"},"mark":{"type":"line","color":"black","strokeWidth":2,"clip":true}},
  {"data":{"values":[{"t":"Ti 2p","x":468.6,"y":662}]},"mark":{"type":"text","fontSize":14,"align":"left","baseline":"middle","color":"black"},
   "encoding":{"text":{"field":"t"}}}
 ]
},
{
 "width":259,"height":260,
 "title":{"text":"(d)","dx":-56,"dy":23},
 "resolve":{"scale":{"color":"independent"}},
 "encoding":{
  "x":{"field":"x","type":"quantitative","scale":{"domain":[279.6,292],"reverse":true,"nice":false,"zero":false},
   "axis":{"title":"Binding energy (eV)","format":"d","labelOverlap":false,"labelFlush":false,"ticks":true,"labelPadding":9,"titlePadding":7,"values":[280,281,282,283,284,285,286,287,288,289,290,291,292],"labelExpr":"datum.value%2==0?datum.label:''"}},
  "y":{"field":"y","type":"quantitative","scale":{"domain":[0,777],"nice":false,"zero":false},"axis":{"title":"Intensity (a.u.)","labels":false,"ticks":false,"titlePadding":26}}
 },
 "layer":[
  {"data":{"name":"dr"},"mark":{"type":"line","color":"#8a8a8a","strokeWidth":1.2,"clip":true}},
  {"data":{"name":"dc"},"mark":{"type":"line","strokeWidth":1.4,"clip":true},
   "encoding":{"color":{"field":"s","type":"nominal","scale":{"domain":["bg","yl","gr","rd","bl"],"range":["#9a9a9a","#e8e37a","#008000","#ff0000","#0000ff"]},"legend":null}}},
  {"data":{"name":"df"},"mark":{"type":"line","color":"black","strokeWidth":2,"clip":true}},
  {"data":{"values":[{"t":"C 1s","x":290.85,"y":655}]},"mark":{"type":"text","fontSize":14,"align":"left","baseline":"middle","color":"black"},
   "encoding":{"text":{"field":"t"}}}
 ]
}
]
}
